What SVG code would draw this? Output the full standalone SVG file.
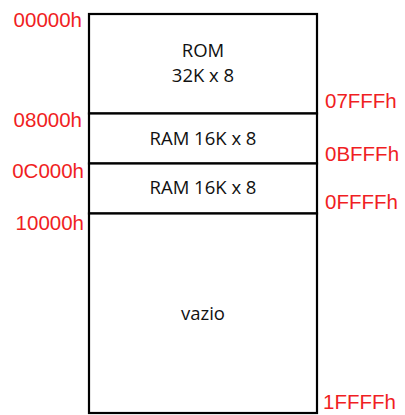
<svg xmlns="http://www.w3.org/2000/svg" width="405" height="415" viewBox="0 0 405 415">
<style>
.blk{fill:#fff;stroke:#000;stroke-width:2.2}
.t{font-family:"Open Sans","Liberation Sans",sans-serif;font-size:18.5px;fill:#111;text-anchor:middle}
.a{font-family:"Liberation Sans",Arial,sans-serif;font-size:20.5px;fill:#f01e23}
.l{text-anchor:end}
</style>
<rect width="405" height="415" fill="#fff"/>
<g id="rom"><rect class="blk" x="89" y="14" width="228" height="99.5"/><text class="t" x="203" y="57">ROM</text><text class="t" x="203" y="82">32K x 8</text></g>
<g id="ram1"><rect class="blk" x="89" y="113.5" width="228" height="50"/><text class="t" x="203" y="145">RAM 16K x 8</text></g>
<g id="ram2"><rect class="blk" x="89" y="163.5" width="228" height="50"/><text class="t" x="203" y="194">RAM 16K x 8</text></g>
<g id="vazio"><rect class="blk" x="89" y="213.5" width="228" height="199.5"/><text class="t" x="203" y="320">vazio</text></g>
<g id="labels">
<text class="a l" x="82" y="27">00000h</text>
<text class="a l" x="82" y="127">08000h</text>
<text class="a l" x="84" y="178">0C000h</text>
<text class="a l" x="84" y="230">10000h</text>
<text class="a" x="325" y="108">07FFFh</text>
<text class="a" x="325" y="161">0BFFFh</text>
<text class="a" x="325" y="209">0FFFFh</text>
<text class="a" x="323" y="409">1FFFFh</text>
</g>
<g id="connectors"/>
</svg>
